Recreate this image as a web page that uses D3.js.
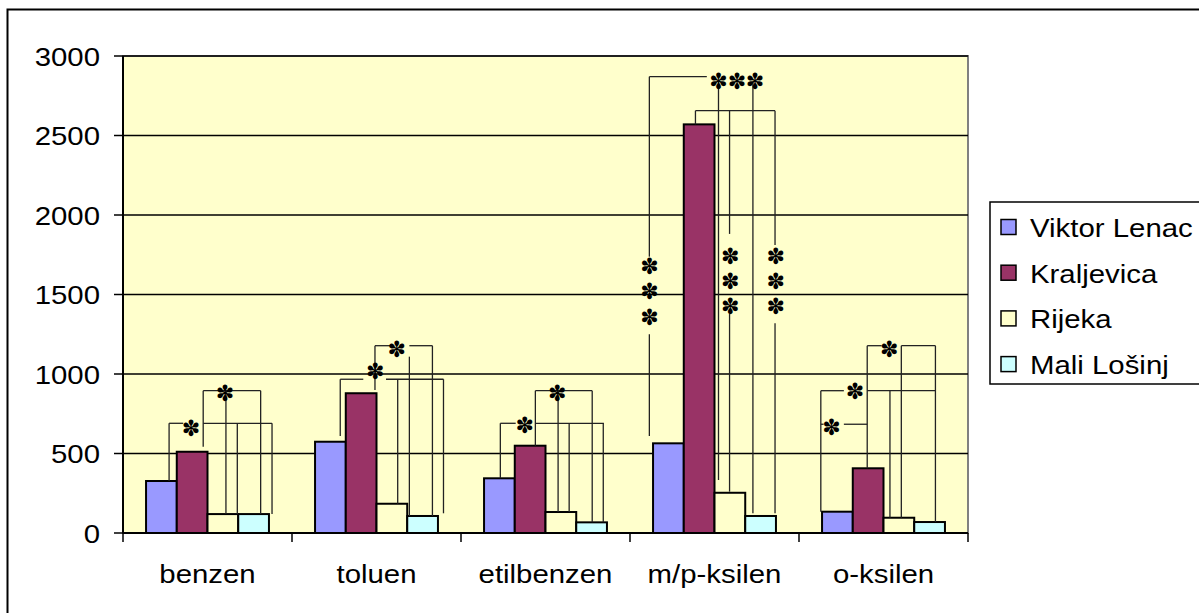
<!DOCTYPE html>
<html>
<head>
<meta charset="utf-8">
<script src="https://cdn.jsdelivr.net/npm/d3@7"></script>
<style>
  html, body { margin: 0; padding: 0; background: #ffffff; }
  svg { display: block; }
</style>
</head>
<body>
<svg id="chart" width="1199" height="613"></svg>
<script>
// ---------------- DATA ----------------
const categories = ["benzen", "toluen", "etilbenzen", "m/p-ksilen", "o-ksilen"];
const seriesNames = ["Viktor Lenac", "Kraljevica", "Rijeka", "Mali Lošinj"];
const viktorLenac = [327, 574, 344, 564, 134];
const kraljevica  = [511, 879, 549, 2570, 407];
const rijeka      = [119, 184, 132, 253, 96];
const maliLosinj  = [119, 107, 67, 107, 69];
const yTicks = [0, 500, 1000, 1500, 2000, 2500, 3000];

// significance brackets: [category index, offset (bar widths from group centre), value, offset, value]
const bracketSegments = [
  [0, -1.25, 690, -0.79, 690], [0, -0.14, 690, 2.10, 690], [0, -1.25, 690, -1.25, 327],
  [0, -0.14, 895, -0.14, 543], [0, -0.14, 895, 1.73, 895], [0, 0.60, 895, 0.60, 119],
  [0, 0.97, 690, 0.97, 119], [0, 1.73, 895, 1.73, 119], [0, 2.10, 690, 2.10, 119],

  [1, -1.18, 967, -0.43, 967], [1, 0.31, 967, 2.18, 967], [1, -1.18, 967, -1.18, 610],
  [1, -0.05, 1178, -0.05, 899], [1, -0.05, 1178, 0.44, 1178], [1, 1.07, 1178, 1.82, 1178],
  [1, 0.69, 967, 0.69, 184], [1, 1.07, 1109, 1.07, 107], [1, 1.82, 1178, 1.82, 107],
  [1, 2.18, 967, 2.18, 124],

  [2, -1.47, 690, -0.97, 690], [2, -0.32, 690, 1.90, 690], [2, -1.47, 690, -1.47, 344],
  [2, -0.33, 895, -0.33, 549], [2, -0.33, 895, 1.52, 895], [2, 0.41, 895, 0.41, 132],
  [2, 0.77, 690, 0.77, 132], [2, 1.52, 895, 1.52, 67], [2, 1.88, 690, 1.88, 67],

  [3, -2.12, 2870, -0.25, 2870], [3, -2.12, 2870, -2.12, 1738], [3, -2.12, 1250, -2.12, 610],
  [3, 0.13, 2838, 0.13, 333], [3, 1.25, 2838, 1.25, 124], [3, -0.62, 2656, 1.97, 2656],
  [3, -0.62, 2656, -0.62, 2570], [3, 0.49, 2656, 0.49, 1881], [3, 0.49, 1377, 0.49, 260],
  [3, 1.97, 2656, 1.97, 1811], [3, 1.97, 1319, 1.97, 124],

  [4, -0.53, 1178, -0.06, 1178], [4, 0.58, 1178, 1.69, 1178], [4, -0.53, 1178, -0.53, 407],
  [4, -2.04, 895, -1.29, 895], [4, -0.53, 895, 1.69, 895], [4, -2.04, 895, -2.04, 134],
  [4, -2.04, 684, -1.95, 684], [4, -1.29, 684, -0.53, 684], [4, 0.21, 895, 0.21, 96],
  [4, 0.58, 1178, 0.58, 96], [4, 1.69, 1178, 1.69, 69]
];
// significance stars: [category index, offset, value]
const starMarks = [
  [0, -0.54, 658], [0, 0.57, 879],
  [1, -0.04, 1015], [1, 0.66, 1157],
  [2, -0.68, 673], [2, 0.38, 879],
  [3, 0.13, 2838], [3, 0.73, 2838], [3, 1.32, 2838],
  [3, -2.12, 1675], [3, -2.12, 1518], [3, -2.12, 1357],
  [3, 0.51, 1742], [3, 0.51, 1581], [3, 0.51, 1423],
  [3, 1.99, 1742], [3, 1.99, 1581], [3, 1.99, 1423],
  [4, 0.19, 1157], [4, -0.93, 889], [4, -1.69, 665]
];

// ---------------- LAYOUT ----------------
const colors = ["#9999FF", "#993366", "#FFFFCC", "#CCFFFF"];
const seriesValues = [viktorLenac, kraljevica, rijeka, maliLosinj];
const plot = { left: 123, right: 968, top: 56, bottom: 533 };
const font = "'Liberation Sans', Arial, sans-serif";
const fontSize = 26, stretch = 1.13;

const svg = d3.select("#chart");

const x0 = d3.scaleBand().domain(d3.range(categories.length)).range([plot.left, plot.right]).padding(0);
const x1 = d3.scaleBand().domain(d3.range(seriesNames.length)).range([0, x0.bandwidth()])
  .paddingInner(0).paddingOuter(0.75);
const y = d3.scaleLinear().domain([0, 3000]).range([plot.bottom, plot.top]);
const step = x1.step();
const ux = (c, u) => x0(c) + x0.bandwidth() / 2 + u * step;

function stretchedText(g, x, yy, str, anchor) {
  return g.append("g").attr("transform", `translate(${x},${yy}) scale(${stretch},1)`)
    .append("text")
    .attr("font-family", font).attr("font-size", fontSize).attr("fill", "#000")
    .attr("text-anchor", anchor || "start")
    .text(str);
}

// outer chart border
svg.append("rect").attr("x", 7.5).attr("y", 9.5).attr("width", 1300).attr("height", 700)
  .attr("fill", "#fff").attr("stroke", "#000").attr("stroke-width", 2);

// plot area
svg.append("rect").attr("x", plot.left).attr("y", plot.top)
  .attr("width", plot.right - plot.left).attr("height", plot.bottom - plot.top)
  .attr("fill", "#FFFFCC").attr("stroke", "#808080").attr("stroke-width", 2);

// gridlines
svg.append("g").selectAll("line").data(yTicks.filter(d => d > 0)).join("line")
  .attr("x1", plot.left).attr("x2", plot.right)
  .attr("y1", d => y(d)).attr("y2", d => y(d))
  .attr("stroke", "#000").attr("stroke-width", 1.5);

// bars
const groups = svg.append("g").selectAll("g").data(categories).join("g")
  .attr("transform", (d, i) => `translate(${x0(i)},0)`);
groups.selectAll("rect").data((d, i) => seriesValues.map((s, k) => ({ k, v: s[i] }))).join("rect")
  .attr("x", d => x1(d.k)).attr("width", x1.bandwidth())
  .attr("y", d => y(d.v)).attr("height", d => y(0) - y(d.v))
  .attr("fill", d => colors[d.k]).attr("stroke", "#000").attr("stroke-width", 2);

// y axis
const yAxisG = svg.append("g");
yAxisG.append("line").attr("x1", plot.left).attr("x2", plot.left)
  .attr("y1", plot.top).attr("y2", plot.bottom).attr("stroke", "#000").attr("stroke-width", 2);
yAxisG.selectAll("line.tick").data(yTicks).join("line").attr("class", "tick")
  .attr("x1", plot.left - 9).attr("x2", plot.left).attr("y1", d => y(d)).attr("y2", d => y(d))
  .attr("stroke", "#000").attr("stroke-width", 1.5);
yTicks.forEach(t => stretchedText(yAxisG, 100, y(t) + 9.5, String(t), "end"));

// x axis
const xAxisG = svg.append("g");
xAxisG.append("line").attr("x1", plot.left).attr("x2", plot.right)
  .attr("y1", plot.bottom).attr("y2", plot.bottom).attr("stroke", "#000").attr("stroke-width", 2);
xAxisG.selectAll("line.tick").data(d3.range(categories.length + 1)).join("line").attr("class", "tick")
  .attr("x1", i => plot.left + i * x0.step()).attr("x2", i => plot.left + i * x0.step())
  .attr("y1", plot.bottom).attr("y2", plot.bottom + 9)
  .attr("stroke", "#000").attr("stroke-width", 1.5);
categories.forEach((c, i) => stretchedText(xAxisG, x0(i) + x0.bandwidth() / 2, 583, c, "middle"));

// brackets
svg.append("g").selectAll("line").data(bracketSegments).join("line")
  .attr("x1", d => ux(d[0], d[1])).attr("y1", d => y(d[2]))
  .attr("x2", d => ux(d[0], d[3])).attr("y2", d => y(d[4]))
  .attr("stroke", "#222").attr("stroke-width", 1.3);

// stars
svg.append("g").selectAll("text").data(starMarks).join("text")
  .attr("x", d => ux(d[0], d[1])).attr("y", d => y(d[2]))
  .attr("text-anchor", "middle").attr("dominant-baseline", "central")
  .attr("font-family", "'DejaVu Sans', sans-serif").attr("font-size", 22)
  .attr("fill", "#000").text("✽");

// legend
const lg = svg.append("g");
lg.append("rect").attr("x", 990).attr("y", 202).attr("width", 260).attr("height", 182)
  .attr("fill", "#fff").attr("stroke", "#000").attr("stroke-width", 1.5);
seriesNames.forEach((n, i) => {
  const cy = 227 + i * 45.7;
  lg.append("rect").attr("x", 1001).attr("y", cy - 7.5).attr("width", 15).attr("height", 15)
    .attr("fill", colors[i]).attr("stroke", "#000").attr("stroke-width", 1.5);
  stretchedText(lg, 1030, cy + 10, n, "start");
});
</script>
</body>
</html>
